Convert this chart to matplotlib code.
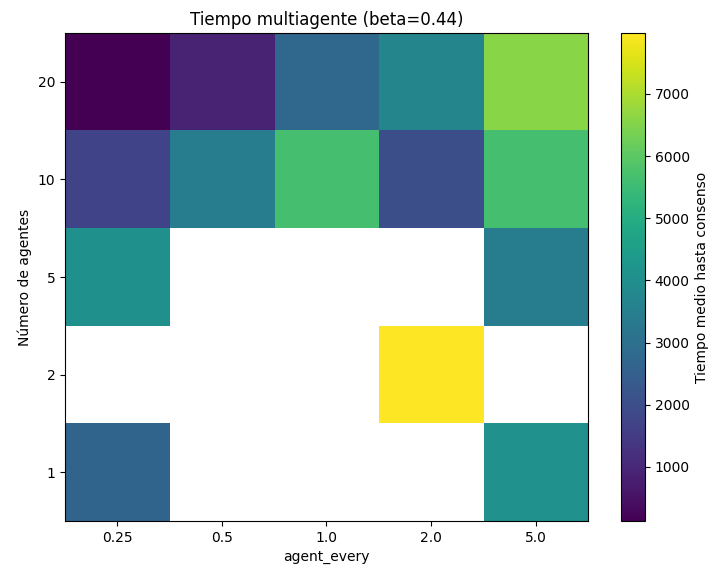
import numpy as np
import matplotlib
matplotlib.use("Agg")
import matplotlib.pyplot as plt

# datos
agent_every = ["0.25", "0.5", "1.0", "2.0", "5.0"]
n_agentes = ["1", "2", "5", "10", "20"]

fila_1 = [2650, np.nan, np.nan, np.nan, 4100]
fila_2 = [np.nan, np.nan, np.nan, 7980, np.nan]
fila_5 = [4080, np.nan, np.nan, np.nan, 3450]
fila_10 = [1700, 3450, 5660, 2020, 5650]
fila_20 = [130, 920, 2740, 3700, 6600]

tiempos = np.array([fila_1, fila_2, fila_5, fila_10, fila_20])

fig = plt.figure(figsize=(7.11, 5.67), dpi=100)
ax = fig.add_axes([0.0914, 0.0811, 0.7356, 0.8607])
cax = fig.add_axes([0.8734, 0.0811, 0.0338, 0.8607])

im = ax.imshow(tiempos, origin="lower", aspect="auto", cmap="viridis")
cb = fig.colorbar(im, cax=cax)
cb.set_label("Tiempo medio hasta consenso")

ax.set_xticks(range(len(agent_every)))
ax.set_xticklabels(agent_every)
ax.set_yticks(range(len(n_agentes)))
ax.set_yticklabels(n_agentes)
ax.set_xlabel("agent_every")
ax.set_ylabel("Número de agentes")
ax.set_title("Tiempo multiagente (beta=0.44)")

plt.savefig("out.png", dpi=100)
